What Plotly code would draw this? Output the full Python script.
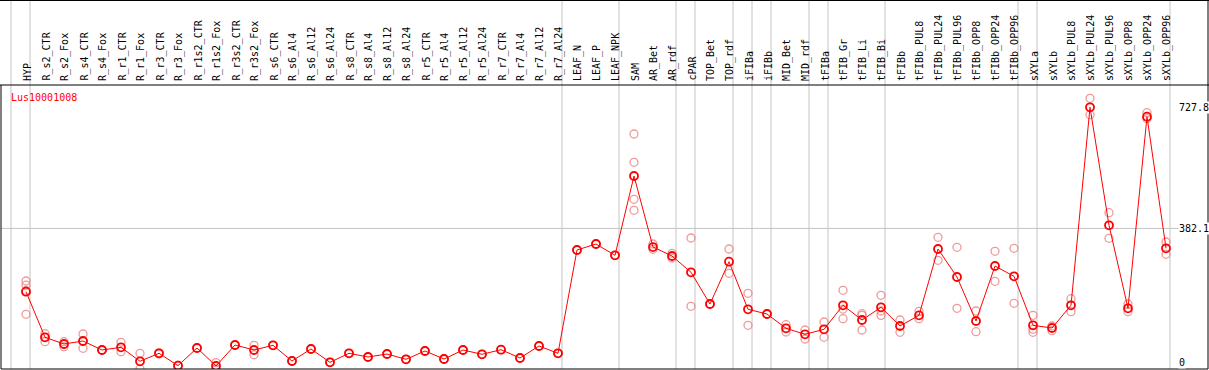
import plotly.graph_objects as go

# ---------------- data ----------------
categories = [
    "HYP", "R_s2_CTR", "R_s2_Fox", "R_s4_CTR", "R_s4_Fox", "R_r1_CTR", "R_r1_Fox",
    "R_r3_CTR", "R_r3_Fox", "R_r1s2_CTR", "R_r1s2_Fox", "R_r3s2_CTR", "R_r3s2_Fox",
    "R_s6_CTR", "R_s6_Al4", "R_s6_Al12", "R_s6_Al24", "R_s8_CTR", "R_s8_Al4",
    "R_s8_Al12", "R_s8_Al24", "R_r5_CTR", "R_r5_Al4", "R_r5_Al12", "R_r5_Al24",
    "R_r7_CTR", "R_r7_Al4", "R_r7_Al12", "R_r7_Al24", "LEAF_N", "LEAF_P", "LEAF_NPK",
    "SAM", "AR_Bet", "AR_rdf", "cPAR", "TOP_Bet", "TOP_rdf", "iFIBa", "iFIBb",
    "MID_Bet", "MID_rdf", "tFIBa", "tFIB_Gr", "tFIB_Li", "tFIB_Bi", "tFIBb",
    "tFIBb_PUL8", "tFIBb_PUL24", "tFIBb_PUL96", "tFIBb_OPP8", "tFIBb_OPP24",
    "tFIBb_OPP96", "sXYLa", "sXYLb", "sXYLb_PUL8", "sXYLb_PUL24", "sXYLb_PUL96",
    "sXYLb_OPP8", "sXYLb_OPP24", "sXYLb_OPP96",
]

mean_values = [
    201.5, 71.4, 52.2, 60.8, 35.1, 42.8, 2.9,
    25.7, -9.6, 40.8, -10.6, 49.4, 35.1,
    48.5, 3.7, 38.0, 0.0, 25.7, 15.1,
    23.7, 8.6, 32.3, 9.4, 35.1, 22.8,
    36.0, 12.3, 46.5, 25.7, 320.5, 337.6, 305.4,
    531.7, 329.0, 303.4, 256.9, 166.4, 287.1, 151.3, 137.8,
    97.0, 79.9, 94.2, 162.7, 120.7, 157.0, 103.6,
    134.0, 323.4, 243.4, 117.9, 274.8,
    245.4, 105.6, 97.9, 162.7, 727.8, 391.0,
    154.1, 701.0, 325.4,
]

replicates = [
    [232, 220, 205, 137], [81.6, 58.8, 71.0], [58.8, 44.5, 52.0], [80.8, 40.0, 60.0],
    [35.0, 35.0], [57.0, 30.3], [25.7, -19.0],
    [27.0, 24.0], [-9.0, -9.0], [41.0, 41.0], [-1.0, -19.0], [49.0, 49.0], [48.5, 21.7],
    [48.5, 48.5], [3.7, 3.7], [38.0, 38.0], [0.0, 0.0], [25.7, 25.7], [15.1, 15.1],
    [23.7, 23.7], [8.6, 8.6], [32.3, 32.3], [9.4, 9.4], [35.1, 35.1], [22.8, 22.8],
    [36.0, 36.0], [12.3, 12.3], [46.5, 46.5], [25.7, 25.7], [320.5, 320.5], [337.6, 337.6],
    [305.4, 305.4],
    [651.6, 570.8, 465.2, 433.8], [337.6, 322.5], [311.0, 297.7], [354.8, 159.8],
    [166.4, 166.4], [323.4, 254.0], [196.9, 105.6], [137.8, 137.8],
    [107.3, 86.5], [92.2, 66.5], [115.0, 71.4], [205.5, 152.0, 124.4],
    [138.7, 134.0, 92.2], [191.2, 146.4, 134.0], [120.7, 85.6],
    [145.5, 124.4], [356.8, 291.1], [328.2, 154.1], [146.4, 87.3], [316.8, 231.2],
    [325.4, 168.4], [134.1, 94.2, 85.6], [103.6, 90.2], [181.5, 144.4],
    [753.5, 706.7], [427.0, 353.9], [166.4, 144.4], [712.4, 695.3], [343.3, 308.2],
]

gene_id = "Lus10001008"
axis_labels = [727.8, 382.1, 0]
reference_line = 382.1

# group separators: drawn after each of these categories (plus one before the first)
separator_after = ["HYP", "R_r7_Al24", "LEAF_NPK", "AR_rdf", "cPAR", "TOP_rdf",
                   "iFIBa", "iFIBb", "MID_rdf", "tFIBa", "tFIB_Bi", "tFIBb_OPP96",
                   "sXYLa", "sXYLb_OPP96"]

# ---------------- figure ----------------
W, H = 1209, 370
ML, MR, MT, MB = 1, 1, 85, 1
PW, PH = W - ML - MR, H - MT - MB
STEP = 19.0          # px per category
X0 = 26.0            # px of first category

x_idx = list(range(len(categories)))

def px_to_x(px):
    return (px - X0) / STEP

y_per_px = 727.8 / (362.3 - 107.3)
y_lo = -(MT + PH - 362.3) * y_per_px
y_hi = 727.8 + (107.3 - MT) * y_per_px

fig = go.Figure()

rx, ry = [], []
for i, reps in enumerate(replicates):
    for v in reps:
        rx.append(i)
        ry.append(v)

fig.add_trace(go.Scatter(
    x=rx, y=ry, mode="markers",
    marker=dict(symbol="circle-open", size=8, color="rgba(232,120,120,0.75)",
                line=dict(width=1.3, color="rgba(232,120,120,0.75)")),
    hoverinfo="skip", showlegend=False, cliponaxis=True,
))

fig.add_trace(go.Scatter(
    x=x_idx, y=mean_values, mode="lines+markers",
    line=dict(color="#ff0000", width=1),
    marker=dict(symbol="circle-open", size=8, color="#ff0000",
                line=dict(width=1.8, color="#ff0000")),
    text=categories, showlegend=False, cliponaxis=True,
))

shapes = []
sep_color = "#c4c4c4"
top_paper = 1 + MT / PH
sep_positions = [-1] + [categories.index(c) for c in separator_after]
for idx in sep_positions:
    xs = idx + 4.0 / STEP
    shapes.append(dict(type="line", xref="x", yref="paper", x0=xs, x1=xs,
                       y0=0, y1=top_paper, line=dict(color=sep_color, width=1), layer="below"))

shapes.append(dict(type="line", xref="paper", yref="y", x0=0, x1=1,
                   y0=reference_line, y1=reference_line,
                   line=dict(color=sep_color, width=1), layer="below"))

# frame lines
blk = dict(color="#000000", width=1)
shapes.append(dict(type="line", xref="paper", yref="paper", x0=-ML / PW, x1=1 + MR / PW,
                   y0=top_paper - 0.5 / PH, y1=top_paper - 0.5 / PH, line=blk))
shapes.append(dict(type="line", xref="paper", yref="paper", x0=-ML / PW, x1=1 + MR / PW,
                   y0=1, y1=1, line=blk))
shapes.append(dict(type="line", xref="paper", yref="paper", x0=0, x1=1,
                   y0=0, y1=0, line=blk))
shapes.append(dict(type="line", xref="paper", yref="paper", x0=0, x1=0,
                   y0=0, y1=1, line=blk))
shapes.append(dict(type="line", xref="paper", yref="paper", x0=1, x1=1,
                   y0=0, y1=top_paper, line=blk))

annotations = []
mono = "DejaVu Sans Mono"
for i, c in enumerate(categories):
    annotations.append(dict(
        x=i + 1.0 / STEP, xref="x", y=1 + 2.0 / PH, yref="paper",
        text=c, textangle=-90, showarrow=False, xanchor="center", yanchor="bottom",
        font=dict(family=mono, size=10, color="#000000"),
    ))

for v in axis_labels:
    annotations.append(dict(
        x=(1178 - ML) / PW, xref="paper", y=v, yref="y", text=str(v),
        showarrow=False, xanchor="left", yanchor="middle", bgcolor="#ffffff",
        borderpad=0, font=dict(family=mono, size=10, color="#000000"),
    ))

annotations.append(dict(
    x=(9 - ML) / PW, xref="paper", y=(MT + PH - 97) / PH, yref="paper",
    text=gene_id, showarrow=False, xanchor="left", yanchor="middle",
    font=dict(family=mono, size=10, color="#ff0000"),
))

fig.update_layout(
    width=W, height=H,
    margin=dict(l=ML, r=MR, t=MT, b=MB, pad=0),
    paper_bgcolor="#ffffff", plot_bgcolor="#ffffff",
    xaxis=dict(range=[px_to_x(ML), px_to_x(ML + PW)], showgrid=False, zeroline=False,
               showticklabels=False, ticks="", fixedrange=True),
    yaxis=dict(range=[y_lo, y_hi], showgrid=False, zeroline=False,
               showticklabels=False, ticks="", fixedrange=True),
    shapes=shapes, annotations=annotations, showlegend=False,
)

fig.write_html(
    "out.html",
    config={"displayModeBar": False},
    post_script="document.body.style.margin='0px';document.body.style.padding='0px';"
                "document.documentElement.style.overflow='hidden';",
)
